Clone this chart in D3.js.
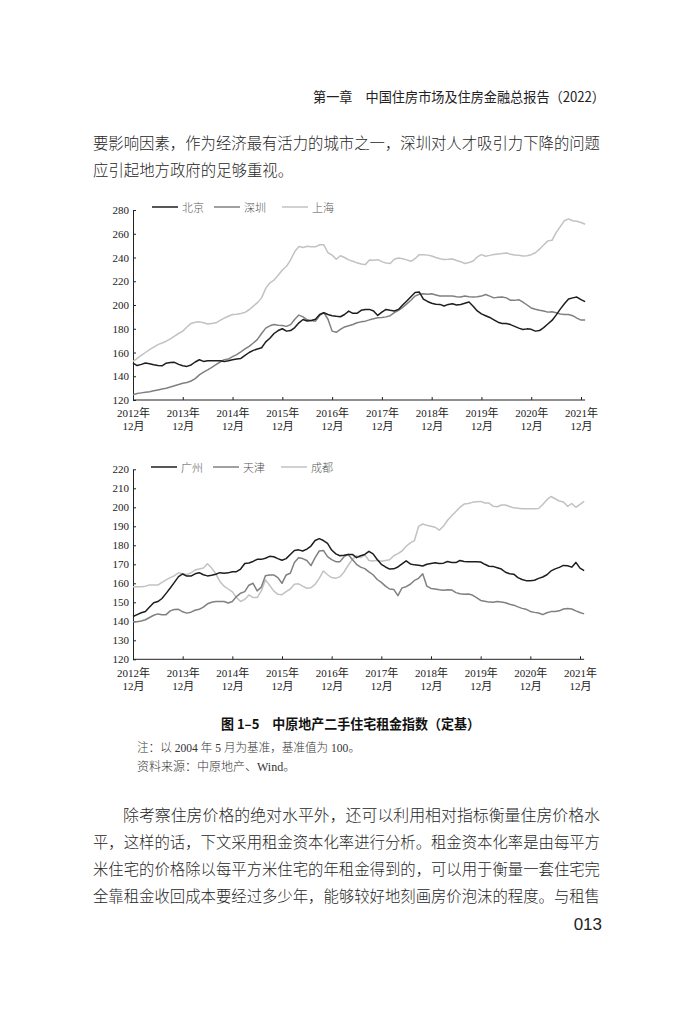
<!DOCTYPE html>
<html>
<head>
<meta charset="utf-8">
<script src="https://cdn.jsdelivr.net/npm/d3@7"></script>
<style>
  html, body { margin: 0; padding: 0; background: #fff; }
  svg { display: block; }
</style>
</head>
<body>
<svg id="page" width="700" height="1011"></svg>
<script>
// Monthly index 0 = 2012年12月 ... 108 = 2021年12月, 109 = 2022年1月
const yearLabels = ["2012年", "2013年", "2014年", "2015年", "2016年", "2017年", "2018年", "2019年", "2020年", "2021年"];
const monthLabel = "12月";
const yTicksTop = [120, 140, 160, 180, 200, 220, 240, 260, 280];
const yTicksBottom = [120, 130, 140, 150, 160, 170, 180, 190, 200, 210, 220];

const topNames = ["北京", "深圳", "上海"];
const bottomNames = ["广州", "天津", "成都"];

const beijing = [151.1,149,150,151.1,150.5,149.7,149,148.8,151,151.5,
  151.7,150,148.8,148.3,149.5,152,153.9,152.5,153,153.1,
  153.1,153,152.5,153,153.9,154.5,155,157.5,160,161.8,
  163,164,169,172,176,178.5,180,178,178.5,181,
  185,187.8,186.5,187,188,192,193.5,192,191,190.5,
  190.1,192,194.9,193,193,195.5,196.3,196.3,195,191.2,
  194,196.3,195.5,195,196.3,200,203.4,207,210.5,211,
  205,203,201.5,200.6,200.5,199.2,200.5,201,200,200.5,
  201.5,202.5,199,195,192.5,191,189.5,187.5,185.5,184.5,
  184.5,183.5,182,180.5,179.4,179.9,179.5,178,178.5,181,
  184,187,191.5,196.5,201,205,206,206.7,204.5,202.8];

const shenzhen = [124.5,125.5,126,126.5,127,127.8,128.5,129.2,129.9,131,
  132,133,134.1,134.7,136,138,141.2,143.5,145.4,147.5,
  149.7,152,154,154.5,156.5,158.2,160.5,163,165.2,168,
  171,176,180.5,182.5,183.5,183,182.8,182,183.5,188,
  191.5,190,187.5,187,186.4,191.2,193.5,188,178,177,
  179.4,181.5,182.5,183.6,185,185.8,186.4,187.5,188.4,189.3,
  189.5,190,191,193.5,195.5,198,201,204,207.5,209,
  209.5,209,209.5,208.5,207.5,207.5,207.5,207.5,207,206.7,
  207.5,207,206.7,207,207.5,208.9,207.5,206,206.5,206.7,
  206,204,203.9,204.5,202.5,200,197.5,196.4,195.5,195,
  194,194.4,193.5,192.5,192.1,192,191,189,187.3,187.3];

const shanghai = [152.5,155,157.5,160,162.4,164.5,166.6,168,169.5,171.5,
  173.7,176,178,181.5,184.5,185.5,185.8,185,184,184.5,
  185,187,189,190.5,192,192.3,192.8,193.8,196,199,
  202,206,214,218.7,221,225,229.5,232.6,238,245,
  249.3,248.5,249.5,249,249,250.7,250.7,244,242,238.5,
  241.5,240,238,236.8,235.5,234.5,234,237.9,237.6,238.2,
  236.5,235.4,235,238.5,239.6,239,238,236.8,239,242.4,
  242.4,242,241.2,240,239,238.4,238.5,238.8,237.5,236.5,
  235,235.8,237,240.5,242.4,241,241.8,242.5,243,243.3,
  243.8,242.8,242.2,241.8,241.2,241.5,242.4,244,247,250.5,
  254,254.5,261,266,271,272.5,271,270.5,269.5,268];

const guangzhou = [142.5,143.5,144.5,145.2,147.5,149.8,150.4,152,154.7,157.5,
  160.5,163.5,164.9,163.8,163.8,165,165.6,164.5,163.9,164.2,
  164.8,165.6,165.3,165.5,166.1,166.1,167.5,170.4,170.7,171.5,
  172.6,172.6,173.2,174.2,174,173,172.1,173,175.2,177.3,
  177.6,177,178,179.6,182.5,183.5,182.5,181,177.5,175.5,
  174.5,174.8,175.2,175.2,173.5,174.5,175.2,176.8,175.5,172.5,
  170,168.6,167.5,167.6,168.6,170.2,171.8,170.2,169.7,169.5,
  169.1,170,170.4,170.8,170.4,170.6,171.5,171,170.9,172,
  171.5,171.4,171.4,171.4,171.2,170,169,168.9,168.2,167.5,
  165.8,165,164.8,163,162,161.4,161.4,161.6,162.6,163.3,
  164.5,166.5,167.6,168.4,169.4,169.2,168.5,171,168,166.7];

const tianjin = [139.8,139.8,140.2,140.8,142,143.2,143.9,143.5,143.5,145.5,
  146.2,146.3,145,144.3,144.8,145.8,146.3,147.5,149.2,150,
  150.4,150.4,150.4,149.6,150.4,153,154.8,155.6,159,160,
  156,158,164,164.4,164.4,163,160,164.4,165.3,171,
  173.5,173,172,169.3,173.5,177,177.3,174,172.5,171.4,
  171.4,174,175.2,172.5,170,168.5,167.7,166,164.5,162,
  160.5,158.5,157,156.8,153.5,157.6,158.2,159.5,161.5,162.6,
  165,158.5,157.3,157,156.6,156.3,156.6,156.5,155.1,154.5,
  154.2,154.4,153.8,152.5,151,150.6,150.1,150,150.4,150.2,
  149.8,149,148.5,147.6,146.8,146.3,145.2,144.7,144.4,143.5,
  144.5,145.1,145.1,145.5,146.5,146.7,146.5,145.5,144.6,143.9];

const chengdu = [158.2,158.2,158.2,158.5,159.1,159.1,159.1,160.5,161.8,163,
  164,165.5,165,164.6,165.5,167,167.5,168,170.3,168,
  165,161,158.5,157,155.5,152.5,150.4,151.5,153.9,152.5,
  152.5,156,161.8,159,156,154.2,154,155.6,157,159.5,
  159.7,158.5,157.4,157.6,159.5,162.6,166.5,164.5,163,162.6,
  163.5,166,169.5,172.5,174.5,173.5,175,172,171.7,172.1,
  171.6,172,172.4,174.5,175.6,177,179.5,181.3,182.5,190,
  191.2,190.5,190,189.5,188,190,193.2,195.5,197.8,200,
  201.7,202,202.6,202.9,203.1,202.3,202.2,200.6,200.3,201.2,
  201.2,200.4,199.7,199.5,199.3,199.3,199.3,199.3,199.4,201.5,
  204,205.7,204.5,203.3,202.8,200.5,202,200,201.5,203.1];

(function () {
  const svg = d3.select("#page");
  const SERIF = "'Liberation Serif', 'Noto Sans CJK SC', serif";
  const CJK = "'Noto Sans CJK SC', sans-serif";
  const INK = "#262626";

  svg.append("rect").attr("width", 700).attr("height", 1011).attr("fill", "#ffffff");

  // -----------------------------
  // Page text
  // -----------------------------
  const txt = (x, y, s, opts = {}) => {
    const t = svg.append("text")
      .attr("x", x).attr("y", y)
      .attr("dominant-baseline", "central")
      .attr("font-family", opts.family || CJK)
      .attr("font-size", opts.size || 15.4)
      .attr("font-weight", opts.weight || 300)
      .attr("fill", opts.fill || INK)
      .attr("text-anchor", opts.anchor || "start")
      .text(s);
    if (opts.len) t.attr("textLength", opts.len).attr("lengthAdjust", "spacingAndGlyphs");
    return t;
  };

  txt(313, 96, "第一章　中国住房市场及住房金融总报告（2022）", { size: 14, len: 292, fill: "#222", weight: 400 });

  txt(93, 142, "要影响因素，作为经济最有活力的城市之一，深圳对人才吸引力下降的问题", { len: 507 });
  txt(93, 169, "应引起地方政府的足够重视。");

  txt(123, 814, "除考察住房价格的绝对水平外，还可以利用相对指标衡量住房价格水", { len: 477 });
  txt(93, 841, "平，这样的话，下文采用租金资本化率进行分析。租金资本化率是由每平方", { len: 507 });
  txt(93, 868, "米住宅的价格除以每平方米住宅的年租金得到的，可以用于衡量一套住宅完", { len: 507 });
  txt(93, 895, "全靠租金收回成本要经过多少年，能够较好地刻画房价泡沫的程度。与租售", { len: 507 });

  txt(602, 924, "013", { family: "'Liberation Sans', Arial, sans-serif", size: 17, anchor: "end", fill: "#222", weight: 400 });

  txt(221, 723, "图 1–5　中原地产二手住宅租金指数（定基）", { size: 13.5, weight: 700, len: 259, fill: "#111" });
  txt(137, 748, "注：以 2004 年 5 月为基准，基准值为 100。", { family: SERIF, size: 12, len: 223, fill: "#333" });
  txt(137, 767, "资料来源：中原地产、Wind。", { family: SERIF, size: 12, fill: "#333" });

  // -----------------------------
  // Charts
  // -----------------------------
  const COLORS = ["#1e1e1e", "#808080", "#c2c2c2"];
  const tickIdx = yearLabels.map((d, i) => i * 12);

  function drawChart(cfg) {
    const g = svg.append("g");
    const n = cfg.series[0].length;

    const x = d3.scaleLinear()
      .domain([0, 108])
      .range([cfg.left, cfg.right]);
    const y = d3.scaleLinear()
      .domain([cfg.yTicks[0], cfg.yTicks[cfg.yTicks.length - 1]])
      .range([cfg.bottom, cfg.top]);

    // y axis, ticks pointing inward
    const ya = g.append("g")
      .attr("transform", `translate(${cfg.left},0)`)
      .call(d3.axisLeft(y).tickValues(cfg.yTicks).tickSize(-3).tickSizeOuter(0).tickPadding(4));
    ya.select(".domain").attr("stroke", "#222").attr("stroke-width", 1);
    ya.selectAll(".tick line").attr("stroke", "#222");
    ya.selectAll(".tick text")
      .attr("font-family", SERIF).attr("font-size", 11).attr("fill", "#222");

    // x axis, two-line labels
    const xa = g.append("g")
      .attr("transform", `translate(0,${cfg.bottom})`)
      .call(d3.axisBottom(x).tickValues(tickIdx).tickSize(-3).tickSizeOuter(0).tickFormat(""));
    xa.select(".domain").attr("d", `M${cfg.left},0H${x(n - 1)}`).attr("stroke", "#222");
    xa.selectAll(".tick line").attr("stroke", "#222");
    xa.selectAll(".tick").each(function (d, i) {
      const t = d3.select(this).append("text")
        .attr("fill", "#222").attr("font-family", SERIF).attr("font-size", 11)
        .attr("text-anchor", "middle");
      t.append("tspan").attr("x", 0).attr("y", cfg.lab1).attr("dominant-baseline", "central").text(yearLabels[i]);
      t.append("tspan").attr("x", 0).attr("y", cfg.lab2).attr("dominant-baseline", "central").text(monthLabel);
    });

    // lines (light first so black stays on top)
    const line = d3.line().x((d, i) => x(i)).y(d => y(d));
    [2, 1, 0].forEach(k => {
      g.append("path")
        .datum(cfg.series[k])
        .attr("d", line)
        .attr("fill", "none")
        .attr("stroke", COLORS[k])
        .attr("stroke-width", 1.5)
        .attr("stroke-linejoin", "round");
    });

    // legend
    cfg.legendX.forEach((lx, k) => {
      g.append("line")
        .attr("x1", lx).attr("x2", lx + 26)
        .attr("y1", cfg.legendY).attr("y2", cfg.legendY)
        .attr("stroke", COLORS[k]).attr("stroke-width", 1.5);
      g.append("text")
        .attr("x", lx + 30).attr("y", cfg.legendY)
        .attr("dominant-baseline", "central")
        .attr("font-family", CJK).attr("font-size", 11).attr("font-weight", 300).attr("fill", "#555")
        .text(cfg.names[k]);
    });
  }

  drawChart({
    series: [beijing, shenzhen, shanghai],
    names: topNames,
    yTicks: yTicksTop,
    left: 133, right: 581, top: 210, bottom: 400,
    lab1: 13, lab2: 26,
    legendY: 207, legendX: [152, 214, 282]
  });

  drawChart({
    series: [guangzhou, tianjin, chengdu],
    names: bottomNames,
    yTicks: yTicksBottom,
    left: 133, right: 580, top: 469.3, bottom: 659.3,
    lab1: 14, lab2: 27,
    legendY: 467, legendX: [151, 213, 281]
  });
})();
</script>
</body>
</html>
